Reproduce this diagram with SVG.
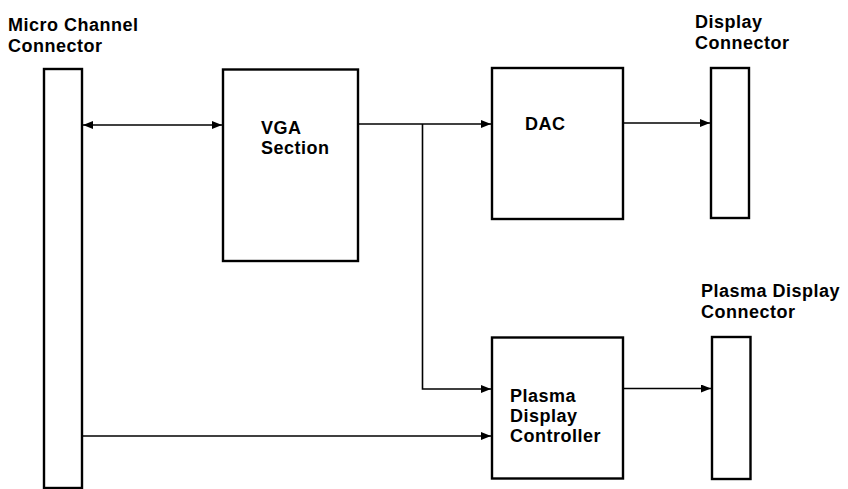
<svg xmlns="http://www.w3.org/2000/svg" width="848" height="489" viewBox="0 0 848 489">
  <style>
    .box { fill: #fff; stroke: #000; stroke-width: 2.4; }
    .lbl { font-family: "Liberation Sans", Arial, sans-serif; font-weight: bold; font-size: 18px; letter-spacing: 0.5px; fill: #000; }
    .wire { fill: none; stroke: #000; stroke-width: 1.6; }
  </style>
  <defs>
    <marker id="ah" viewBox="0 0 10 8" refX="10" refY="4" markerWidth="10" markerHeight="8" markerUnits="userSpaceOnUse" orient="auto-start-reverse">
      <path d="M0,0 L10,4 L0,8 Z" fill="#000"/>
    </marker>
  </defs>
  <rect width="848" height="489" fill="#fff"/>

  <g id="micro-channel-connector">
    <rect class="box" x="44" y="69" width="38" height="419"/>
    <text class="lbl" x="8" y="30.5">Micro Channel</text>
    <text class="lbl" x="8" y="51.5">Connector</text>
  </g>

  <g id="vga-section">
    <rect class="box" x="223" y="69.5" width="135" height="191.5"/>
    <text class="lbl" x="261" y="133.5">VGA</text>
    <text class="lbl" x="261" y="154">Section</text>
  </g>

  <g id="dac">
    <rect class="box" x="492" y="68" width="131" height="151"/>
    <text class="lbl" x="525" y="130">DAC</text>
  </g>

  <g id="display-connector">
    <rect class="box" x="711" y="68" width="38" height="150"/>
    <text class="lbl" x="695" y="28">Display</text>
    <text class="lbl" x="695" y="48.5">Connector</text>
  </g>

  <g id="plasma-display-controller">
    <rect class="box" x="492" y="337.5" width="131" height="141"/>
    <text class="lbl" x="510" y="401.5">Plasma</text>
    <text class="lbl" x="510" y="421.5">Display</text>
    <text class="lbl" x="510" y="441.5">Controller</text>
  </g>

  <g id="plasma-display-connector">
    <rect class="box" x="712" y="337" width="38.5" height="142"/>
    <text class="lbl" x="701" y="297">Plasma Display</text>
    <text class="lbl" x="701" y="317.5">Connector</text>
  </g>

  <g id="connectors">
    <line class="wire" x1="83" y1="125" x2="222" y2="125" marker-start="url(#ah)" marker-end="url(#ah)"/>
    <line class="wire" x1="358" y1="124" x2="491" y2="124" marker-end="url(#ah)"/>
    <polyline class="wire" points="422.5,124 422.5,389 491,389" marker-end="url(#ah)"/>
    <line class="wire" x1="623" y1="123" x2="710" y2="123" marker-end="url(#ah)"/>
    <line class="wire" x1="623" y1="388.5" x2="711" y2="388.5" marker-end="url(#ah)"/>
    <line class="wire" x1="83" y1="436" x2="491" y2="436" marker-end="url(#ah)"/>
  </g>
</svg>
